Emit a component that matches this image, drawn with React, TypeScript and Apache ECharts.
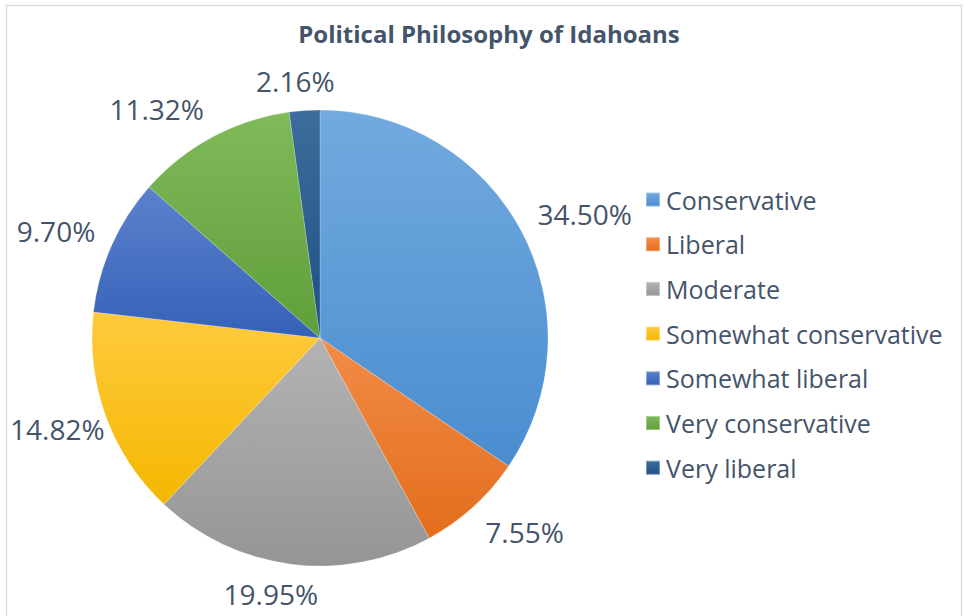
import React, { useEffect, useRef } from "react";
import * as echarts from "echarts";

const categories = [
  "Conservative",
  "Liberal",
  "Moderate",
  "Somewhat conservative",
  "Somewhat liberal",
  "Very conservative",
  "Very liberal",
];
const values = [34.5, 7.55, 19.95, 14.82, 9.7, 11.32, 2.16];
const topColors = ["#72AADE", "#F28C48", "#B3B3B3", "#FFCA3E", "#5C82CD", "#80BA5A", "#3D6D9C"];
const bottomColors = ["#4A8DD0", "#E36D1C", "#959595", "#F4B700", "#3461B8", "#5F9E39", "#1E5084"];

const TEXT = "#44546A";
const FONT = "'Open Sans', 'Noto Sans', sans-serif";
const CX = 320;
const CY = 338;
const R = 228;

const clamp = (v: number, lo: number, hi: number) => Math.max(lo, Math.min(hi, v));

export default function App() {
  const ref = useRef<HTMLDivElement>(null);
  useEffect(() => {
    if (!ref.current) return;
    const chart = echarts.init(ref.current, undefined, { renderer: "svg" });
    const total = values.reduce((a, b) => a + b, 0);
    const cum: number[] = [];
    values.reduce((acc, v, i) => {
      cum[i] = acc;
      return acc + v;
    }, 0);
    const data = categories.map((name, i) => ({
      name,
      value: values[i],
      itemStyle: {
        color: new echarts.graphic.LinearGradient(0, 0, 0, 1, [
          { offset: 0, color: topColors[i] },
          { offset: 1, color: bottomColors[i] },
        ]),
      },
    }));
    chart.setOption({
      animation: false,
      backgroundColor: "#FFFFFF",
      title: {
        text: "Political Philosophy of Idahoans",
        left: 484,
        textAlign: "center",
        top: 16,
        textStyle: { fontFamily: FONT, fontWeight: "bold", fontSize: 24, color: TEXT },
      },
      graphic: [
        {
          type: "rect",
          shape: { x: 6.5, y: 5.5, width: 955, height: 640 },
          style: { fill: "none", stroke: "#DCDDE4", lineWidth: 1.5 },
          silent: true,
        },
      ],
      legend: {
        orient: "vertical",
        left: 640,
        top: 182,
        itemWidth: 14,
        itemHeight: 14,
        itemGap: 19.7,
        icon: "rect",
        textStyle: { fontFamily: FONT, fontSize: 25, color: TEXT, padding: [0, 0, 0, 1] },
        data: categories,
      },
      series: [
        {
          type: "pie",
          center: [CX, CY],
          radius: R,
          startAngle: 90,
          clockwise: true,
          avoidLabelOverlap: false,
          data,
          itemStyle: { borderColor: "rgba(255,255,255,0.35)", borderWidth: 0.6 },
          label: {
            show: true,
            position: "outside",
            formatter: (p: any) => p.value.toFixed(2) + "%",
            fontFamily: FONT,
            fontSize: 28,
            color: TEXT,
          },
          labelLine: { show: false },
          emphasis: { disabled: true },
          labelLayout: (p: any) => {
            const i = p.dataIndex;
            const mid = ((cum[i] + values[i] / 2) / total) * Math.PI * 2;
            const ux = Math.sin(mid);
            const uy = -Math.cos(mid);
            const w = p.labelRect.width;
            const D = R + 18;
            const px = CX + ux * D;
            const py = CY + uy * D;
            let x = px + (clamp(3 * ux, -1, 1) * w) / 2;
            const y = py + clamp(1.5 * uy, -1, 1) * 12;
            x = clamp(x, 10 + w / 2, 954 - w / 2);
            return { x, y, align: "center", verticalAlign: "middle" };
          },
        },
      ],
    });
    return () => chart.dispose();
  }, []);
  return (
    <div
      ref={ref}
      style={{ position: "absolute", left: 0, top: 0, width: 964, height: 616 }}
    />
  );
}
